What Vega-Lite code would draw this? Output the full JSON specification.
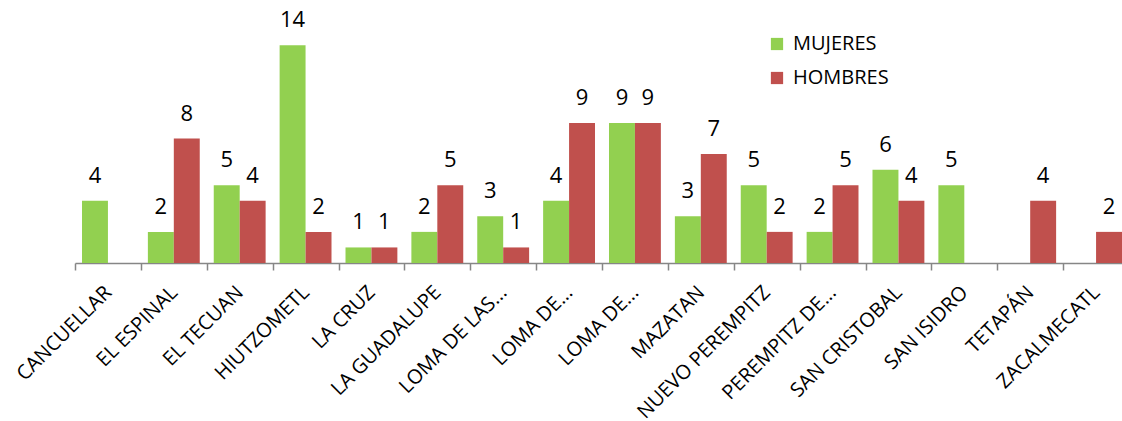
{
  "$schema": "https://vega.github.io/schema/vega-lite/v6.json",
  "autosize": "none",
  "width": 1047,
  "height": 249,
  "padding": {"left": 75, "top": 14, "right": 0, "bottom": 158},
  "background": "white",
  "config": {
    "font": "Open Sans",
    "view": {"stroke": null}
  },
  "data": {
    "values": [
      {"n": 1, "lugar": "CANCUELLAR", "sexo": "MUJERES", "valor": 4},
      {"n": 2, "lugar": "EL ESPINAL", "sexo": "MUJERES", "valor": 2},
      {"n": 2, "lugar": "EL ESPINAL", "sexo": "HOMBRES", "valor": 8},
      {"n": 3, "lugar": "EL TECUAN", "sexo": "MUJERES", "valor": 5},
      {"n": 3, "lugar": "EL TECUAN", "sexo": "HOMBRES", "valor": 4},
      {"n": 4, "lugar": "HIUTZOMETL", "sexo": "MUJERES", "valor": 14},
      {"n": 4, "lugar": "HIUTZOMETL", "sexo": "HOMBRES", "valor": 2},
      {"n": 5, "lugar": "LA CRUZ", "sexo": "MUJERES", "valor": 1},
      {"n": 5, "lugar": "LA CRUZ", "sexo": "HOMBRES", "valor": 1},
      {"n": 6, "lugar": "LA GUADALUPE", "sexo": "MUJERES", "valor": 2},
      {"n": 6, "lugar": "LA GUADALUPE", "sexo": "HOMBRES", "valor": 5},
      {"n": 7, "lugar": "LOMA DE LAS...", "sexo": "MUJERES", "valor": 3},
      {"n": 7, "lugar": "LOMA DE LAS...", "sexo": "HOMBRES", "valor": 1},
      {"n": 8, "lugar": "LOMA DE...", "sexo": "MUJERES", "valor": 4},
      {"n": 8, "lugar": "LOMA DE...", "sexo": "HOMBRES", "valor": 9},
      {"n": 9, "lugar": "LOMA DE...", "sexo": "MUJERES", "valor": 9},
      {"n": 9, "lugar": "LOMA DE...", "sexo": "HOMBRES", "valor": 9},
      {"n": 10, "lugar": "MAZATAN", "sexo": "MUJERES", "valor": 3},
      {"n": 10, "lugar": "MAZATAN", "sexo": "HOMBRES", "valor": 7},
      {"n": 11, "lugar": "NUEVO PEREMPITZ", "sexo": "MUJERES", "valor": 5},
      {"n": 11, "lugar": "NUEVO PEREMPITZ", "sexo": "HOMBRES", "valor": 2},
      {"n": 12, "lugar": "PEREMPITZ DE...", "sexo": "MUJERES", "valor": 2},
      {"n": 12, "lugar": "PEREMPITZ DE...", "sexo": "HOMBRES", "valor": 5},
      {"n": 13, "lugar": "SAN CRISTOBAL", "sexo": "MUJERES", "valor": 6},
      {"n": 13, "lugar": "SAN CRISTOBAL", "sexo": "HOMBRES", "valor": 4},
      {"n": 14, "lugar": "SAN ISIDRO", "sexo": "MUJERES", "valor": 5},
      {"n": 15, "lugar": "TETAPÁN", "sexo": "HOMBRES", "valor": 4},
      {"n": 16, "lugar": "ZACALMECATL", "sexo": "HOMBRES", "valor": 2}
    ]
  },
  "encoding": {
    "x": {
      "field": "n",
      "type": "ordinal",
      "title": null,
      "scale": {"range": [0, 1054], "paddingInner": 0, "paddingOuter": 0},
      "axis": {
        "labelExpr": "['', 'CANCUELLAR', 'EL ESPINAL', 'EL TECUAN', 'HIUTZOMETL', 'LA CRUZ', 'LA GUADALUPE', 'LOMA DE LAS...', 'LOMA DE...', 'LOMA DE...', 'MAZATAN', 'NUEVO PEREMPITZ', 'PEREMPITZ DE...', 'SAN CRISTOBAL', 'SAN ISIDRO', 'TETAPÁN', 'ZACALMECATL'][datum.value]",
        "labelAngle": -45,
        "labelAlign": "right",
        "labelBaseline": "middle",
        "labelFontSize": 20,
        "labelColor": "#000000",
        "labelPadding": 19,
        "labelLimit": 400,
        "labelOverlap": false,
        "labelFlush": false,
        "tickBand": "extent",
        "tickSize": 7,
        "tickColor": "#868686",
        "tickWidth": 1.5,
        "domainColor": "#868686",
        "domainWidth": 1.5
      }
    },
    "xOffset": {
      "field": "sexo",
      "type": "nominal",
      "sort": ["MUJERES", "HOMBRES"],
      "scale": {"paddingInner": 0, "paddingOuter": 0.27}
    },
    "y": {
      "field": "valor",
      "type": "quantitative",
      "scale": {"domain": [0, 16]},
      "axis": null
    }
  },
  "layer": [
    {
      "mark": {"type": "bar"},
      "encoding": {
        "color": {
          "field": "sexo",
          "type": "nominal",
          "sort": ["MUJERES", "HOMBRES"],
          "scale": {"domain": ["MUJERES", "HOMBRES"], "range": ["#92D050", "#C0504D"]},
          "legend": {
            "title": null,
            "orient": "none",
            "legendX": 692,
            "legendY": 20,
            "padding": 0,
            "symbolType": "square",
            "symbolSize": 150,
            "symbolStrokeWidth": 0,
            "labelFontSize": 20,
            "labelColor": "#000000",
            "labelOffset": 6,
            "rowPadding": 14
          }
        }
      }
    },
    {
      "mark": {"type": "text", "baseline": "alphabetic", "dy": -18, "fontSize": 22, "color": "#000000"},
      "encoding": {
        "text": {"field": "valor", "type": "quantitative"}
      }
    }
  ]
}
